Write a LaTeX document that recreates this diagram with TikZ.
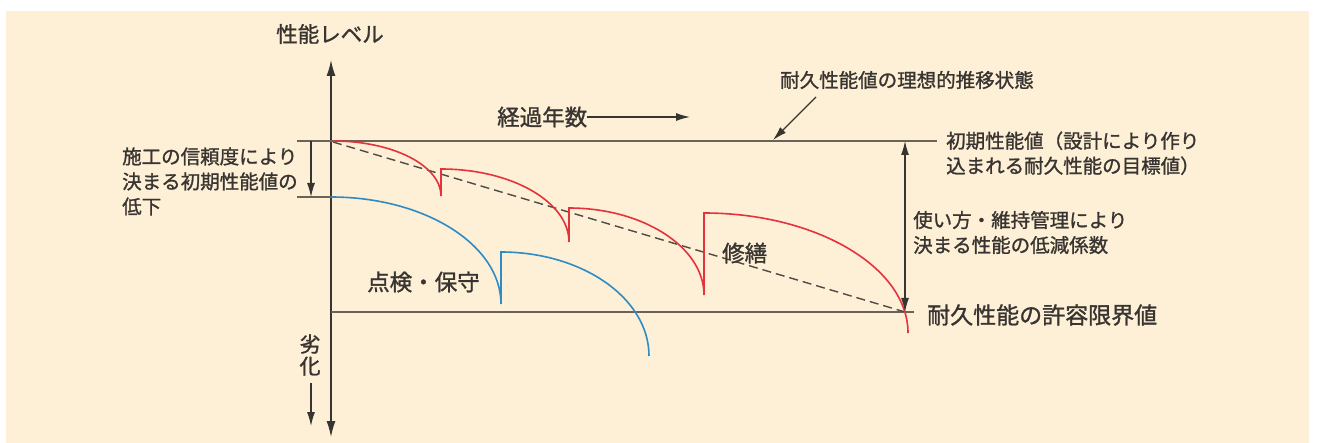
\documentclass[tikz,border=0pt]{standalone}
\usepackage{fontspec}
\setmainfont{Noto Sans CJK JP}[FakeBold=1.2]
\usetikzlibrary{arrows.meta}
\definecolor{bgcream}{HTML}{FDF0D6}
\definecolor{axisgray}{HTML}{6B6259}
\definecolor{txtgray}{HTML}{383431}
\definecolor{dashgray}{HTML}{4F4A45}
\definecolor{curvered}{HTML}{E5323C}
\definecolor{curveblue}{HTML}{2E8BC4}
\tikzset{
  gline/.style={draw=axisgray, line width=1.5pt},
  arr/.style={draw=txtgray, line width=1.2pt, -{Latex[length=14pt,width=8pt]}},
  darr/.style={draw=txtgray, line width=1.2pt, {Latex[length=14pt,width=8pt]}-{Latex[length=14pt,width=8pt]}},
  axarr/.style={draw=txtgray, line width=1.4pt, {Latex[length=16pt,width=9pt]}-{Latex[length=16pt,width=9pt]}},
  redc/.style={draw=curvered, line width=1.6pt, line join=miter},
  bluec/.style={draw=curveblue, line width=1.6pt, line join=miter},
  dashl/.style={draw=dashgray, line width=1.4pt, dash pattern=on 9pt off 5pt},
  lbl/.style={text=txtgray, inner sep=0pt, font=\fontsize{19.5}{25}\selectfont},
  biglbl/.style={text=txtgray, inner sep=0pt, font=\fontsize{22.5}{26}\selectfont}
}
\begin{document}
\begin{tikzpicture}[x=1pt, y=-1pt]
\useasboundingbox (0,0) rectangle (1317,443);
\fill[bgcream] (6,11) rectangle (1309,443);

% axis
\coordinate (axT) at (331,60);
\coordinate (axB) at (331,437);
\draw[axarr] (axT) -- (axB);

% horizontal lines
\coordinate (topL) at (297,141);
\coordinate (topR) at (937,141);
\draw[gline] (topL) -- (topR);
\coordinate (midL) at (297,197);
\coordinate (midR) at (331,197);
\draw[gline] (midL) -- (midR);
\coordinate (botL) at (331,312);
\coordinate (botR) at (914,312);
\draw[gline] (botL) -- (botR);

% dashed ideal decline
\coordinate (dS) at (333,142);
\coordinate (dE) at (905,312);
\draw[dashl] (dS) -- (dE);

% red curve
\draw[redc] (333,141) .. controls (394,141) and (441,166) .. (441,196)
  -- (441,169) .. controls (512,169) and (569,202) .. (569,242)
  -- (569,208) .. controls (643,208) and (704,247) .. (704,295)
  -- (704,213) .. controls (816,213) and (908,267) .. (908,333);

% blue curve
\draw[bluec] (331,197) .. controls (425,197) and (501,245) .. (501,304)
  -- (501,252) .. controls (582,252) and (649,298) .. (649,356);

% small arrows
\coordinate (la1) at (311,141);
\coordinate (la2) at (311,197);
\draw[arr] (la1) -- (la2);
\coordinate (ra1) at (905,141);
\coordinate (ra2) at (905,312);
\draw[darr] (ra1) -- (ra2);

% labels
\node[biglbl, font=\fontsize{21.5}{26}\selectfont] (perf) at (330,34) {性能レベル};
\node[biglbl, anchor=west] (years) at (497,117) {経過年数};
\coordinate (yearsEnd) at (690,117);
\draw[arr] (years.east) -- (yearsEnd);

\node[lbl, anchor=west] (ideal) at (780,80) {耐久性能値の理想的推移状態};
\coordinate (idealS) at (816,97);
\coordinate (idealE) at (773,140);
\draw[arr] (idealS) -- (idealE);

\node[lbl, anchor=north west, align=left] (init) at (946,131.25) {初期性能値（設計により作り\\込まれる耐久性能の目標値）};
\node[lbl, anchor=north west, align=left] (usage) at (913,210.75) {使い方・維持管理により\\決まる性能の低減係数};
\node[biglbl, anchor=west, font=\fontsize{23}{26}\selectfont] (limit) at (927,315) {耐久性能の許容限界値};
\node[biglbl, anchor=west] (repair) at (722,253) {修繕};
\node[biglbl, anchor=west] (inspect) at (367,282) {点検・保守};
\node[lbl, anchor=north west, align=left] (constr) at (122,147.25) {施工の信頼度により\\決まる初期性能値の\\低下};

\node[lbl, align=center, font=\fontsize{21}{22}\selectfont] (deg) at (310,355) {劣\\化};
\coordinate (degA) at (311,383);
\coordinate (degB) at (311,426);
\draw[arr] (degA) -- (degB);
\end{tikzpicture}
\end{document}
